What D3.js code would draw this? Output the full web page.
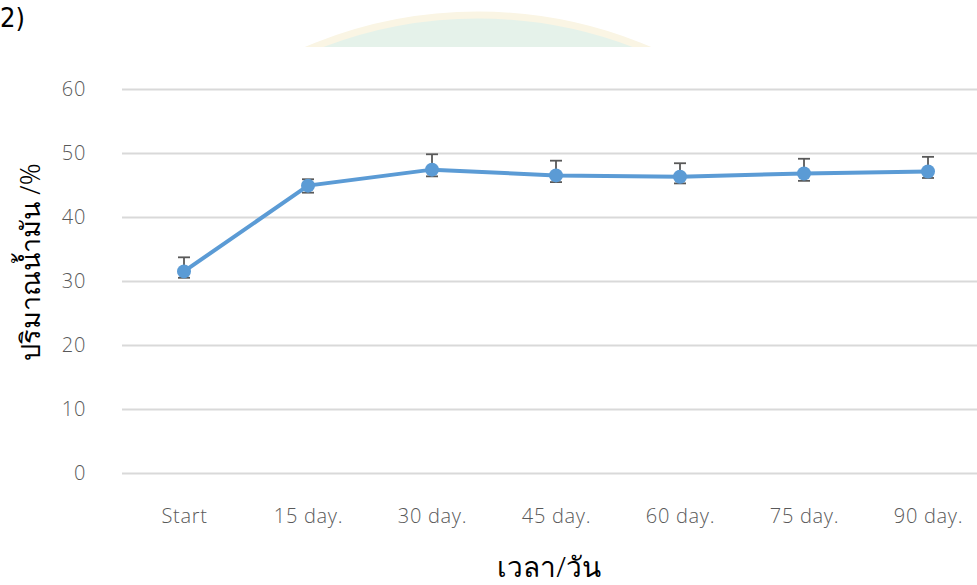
<!DOCTYPE html>
<html><head>
<meta charset="utf-8">
<script src="https://d3js.org/d3.v7.min.js"></script>
<style>
  body { margin: 0; background: #fff; }
  .gridlines line { stroke: #d9d9d9; stroke-width: 2; }
  .gridlines .domain { stroke: none; }
  .tick text { font-family: "Open Sans", Lato, sans-serif; font-weight: 300; fill: #595959; font-size: 20px; letter-spacing: 0.7px; }
</style>
</head>
<body>
<svg id="svg1" width="977" height="585"></svg>
<script>
// data
const days = ["Start", "15 day.", "30 day.", "45 day.", "60 day.", "75 day.", "90 day."];
const oilPct = [31.5, 44.9, 47.4, 46.5, 46.3, 46.8, 47.1];
const errPlus = [2.2, 1.0, 2.4, 2.3, 2.1, 2.3, 2.3];
const errMinus = [1.0, 1.1, 1.05, 1.05, 1.05, 1.15, 1.0];
const yTicks = [0, 10, 20, 30, 40, 50, 60];

let svg1 = d3.select("svg#svg1");
const margins = {top: 89, left: 122, right: 977, bottom: 473};

// faint watermark arc at the top (clipped)
svg1.append("clipPath").attr("id", "wm")
    .append("rect").attr("x", 0).attr("y", 0).attr("width", 977).attr("height", 47);
svg1.append("circle")
    .attr("clip-path", "url(#wm)")
    .attr("cx", 478).attr("cy", 452).attr("r", 437)
    .attr("fill", "#e5f2ea").attr("stroke", "#faf5e4").attr("stroke-width", 7);

svg1.append("text").attr("x", 0).attr("y", 27)
    .style("font-family", "'Liberation Sans Narrow', 'DejaVu Sans Condensed', sans-serif")
    .style("font-size", "27px").style("fill", "#000").text("2)");

let yScale = d3.scaleLinear().domain([0, 60]).range([margins.bottom, margins.top]);
let xScale = d3.scalePoint().domain(days).range([122, 990]).padding(0.5);

let annotations = svg1.append("g");

let leftGrid = d3.axisLeft(yScale).tickValues(yTicks)
                 .tickSize(-(margins.right - margins.left)).tickFormat("");
annotations.append("g").attr("class", "gridlines")
    .attr("transform", `translate(${margins.left},0)`)
    .call(leftGrid);

let leftAxis = d3.axisLeft(yScale).tickValues(yTicks).tickSize(0).tickPadding(36);
annotations.append("g").attr("transform", `translate(${margins.left},0)`)
    .call(leftAxis)
    .call(g => g.select(".domain").remove());

let bottomAxis = d3.axisBottom(xScale).tickSize(0).tickPadding(36);
annotations.append("g").attr("transform", `translate(0,${margins.bottom})`)
    .call(bottomAxis)
    .call(g => g.select(".domain").remove());

// axis titles
svg1.append("text")
    .attr("transform", "translate(40,262) rotate(-90)")
    .attr("text-anchor", "middle")
    .style("font-family", "'Noto Sans', 'DejaVu Sans', sans-serif")
    .style("font-weight", 300)
    .style("font-size", "27px").style("fill", "#000")
    .text("ปริมาณน้ำมัน /%");

svg1.append("text")
    .attr("x", 549).attr("y", 577)
    .attr("text-anchor", "middle")
    .style("font-family", "'Noto Sans', 'DejaVu Sans', sans-serif")
    .style("font-weight", 300)
    .style("font-size", "28px").style("fill", "#000")
    .text("เวลา/วัน");

const rows = days.map((d, i) => ({day: d, v: oilPct[i], hi: oilPct[i] + errPlus[i], lo: oilPct[i] - errMinus[i]}));

let chartArea = svg1.append("g");

// error bars
let eb = chartArea.selectAll("g.err").data(rows).join("g").attr("class", "err")
    .style("stroke", "#595959").style("stroke-width", 1.8);
eb.append("line")
    .attr("x1", d => xScale(d.day)).attr("x2", d => xScale(d.day))
    .attr("y1", d => yScale(d.lo)).attr("y2", d => yScale(d.hi));
eb.append("line")
    .attr("x1", d => xScale(d.day) - 6).attr("x2", d => xScale(d.day) + 6)
    .attr("y1", d => yScale(d.hi)).attr("y2", d => yScale(d.hi));
eb.append("line")
    .attr("x1", d => xScale(d.day) - 6).attr("x2", d => xScale(d.day) + 6)
    .attr("y1", d => yScale(d.lo)).attr("y2", d => yScale(d.lo));

let lineGen = d3.line().x(d => xScale(d.day)).y(d => yScale(d.v));
chartArea.append("path").datum(rows)
    .attr("fill", "none").attr("stroke", "#5b9bd5").attr("stroke-width", 4)
    .attr("d", lineGen);

chartArea.selectAll("circle").data(rows).join("circle")
    .attr("cx", d => xScale(d.day)).attr("cy", d => yScale(d.v))
    .attr("r", 7).style("fill", "#5b9bd5");
</script>
</body></html>
